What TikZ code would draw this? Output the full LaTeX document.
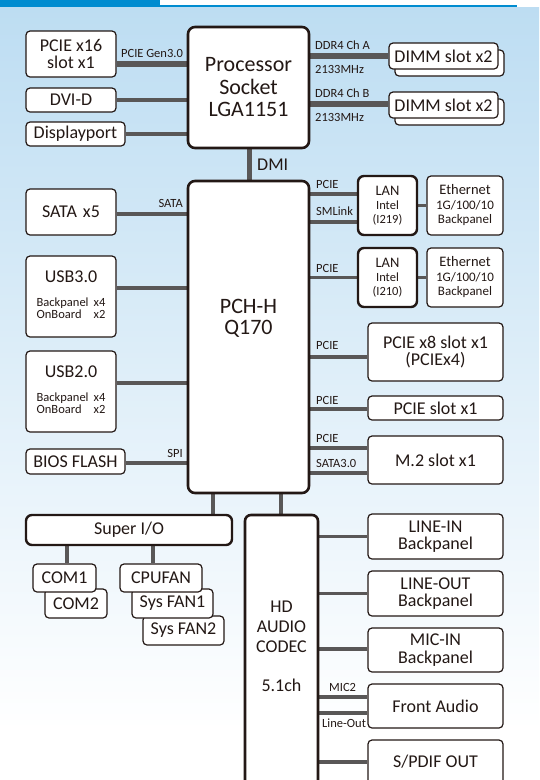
\documentclass[tikz,border=0pt]{standalone}
\usepackage{fontspec}
\setmainfont{Carlito}
\usetikzlibrary{calc}
\definecolor{ink}{RGB}{35,24,21}
\definecolor{busgray}{RGB}{89,87,87}
\definecolor{topblue}{RGB}{0,140,208}
\definecolor{bgblue}{RGB}{189,221,242}
\newcommand\fsz[2]{\fontsize{#1}{#2}\selectfont}
\pgfdeclarelayer{back}
\pgfdeclarelayer{wires}
\pgfsetlayers{back,wires,main}
\begin{document}
\begin{tikzpicture}[x=1pt,y=-1pt,
  box/.style={draw=ink, fill=white, line width=1.2pt, rounded corners=4pt, inner sep=0pt, align=center, text=ink, font=\fsz{18}{17.5}},
  heavy/.style={box, line width=2.6pt, rounded corners=6pt},
  bus/.style={draw=busgray, line width=3.6pt},
  wbus/.style={draw=busgray, line width=6pt},
  lbl/.style={inner sep=0pt, text=ink, font=\fsz{12.5}{12.5}},
  txt/.style={inner sep=0pt, text=ink, align=center}]
\useasboundingbox (0,0) rectangle (539,780);
\clip (0,0) rectangle (539,780);
\begin{pgfonlayer}{back}
  \shade[top color=bgblue, bottom color=white] (0,7) rectangle (539,730);
  \fill[topblue] (0,0) rectangle (160,5);
  \fill[topblue] (0,5) rectangle (517,7.3);
\end{pgfonlayer}

% processor side
\node[heavy, rounded corners=7pt, minimum width=121, minimum height=121, font=\fsz{22}{22.5}] (proc) at (248.5,87.5) {Processor\\Socket\\LGA1151};
\node[box, minimum width=90, minimum height=46] (pcie16) at (71,54) {PCIE x16\\slot x1};
\node[box, minimum width=90, minimum height=24] (dvid) at (71,100) {DVI-D};
\node[box, minimum width=99, minimum height=24] (dp) at (75.5,134) {Displayport};
\node[box, minimum width=109, minimum height=26] (dimmAb) at (449.5,63) {};
\node[box, minimum width=109, minimum height=26] (dimmA) at (443.5,56) {DIMM slot x2};
\node[box, minimum width=109, minimum height=26] (dimmBb) at (449.5,112) {};
\node[box, minimum width=109, minimum height=26] (dimmB) at (443.5,105) {DIMM slot x2};

% PCH
\node[heavy, rounded corners=7pt, minimum width=121, minimum height=312] (pch) at (248.5,337) {};
\node[txt, font=\fsz{22}{21}] (pchtext) at (248.5,318) {PCH-H\\Q170};
\node[box, minimum width=90, minimum height=46] (sata) at (71,212) {SATA\hspace{6pt}x5};
\node[box, minimum width=90, minimum height=81] (usb3) at (71,296.5) {USB3.0\\[6pt]{\fsz{12.5}{12}\begin{tabular}[t]{@{}l@{\hspace{5pt}}r@{}}Backpanel&x4\\OnBoard&x2\end{tabular}}};
\node[box, minimum width=90, minimum height=81] (usb2) at (71,391.5) {USB2.0\\[6pt]{\fsz{12.5}{12}\begin{tabular}[t]{@{}l@{\hspace{5pt}}r@{}}Backpanel&x4\\OnBoard&x2\end{tabular}}};
\node[box, minimum width=99, minimum height=25] (bios) at (75.5,461.5) {BIOS FLASH};

\node[heavy, line width=2.4pt, minimum width=59, minimum height=59, font=\fsz{12.5}{14}] (lan1) at (387.5,205.5) {{\fsz{14.5}{14}LAN}\\Intel\\(I219)};
\node[box, minimum width=76, minimum height=59, font=\fsz{13}{14.5}] (eth1) at (465,205.5) {{\fsz{14.5}{14.5}Ethernet}\\1G/100/10\\Backpanel};
\node[heavy, line width=2.4pt, minimum width=59, minimum height=59, font=\fsz{12.5}{14}] (lan2) at (387.5,277.5) {{\fsz{14.5}{14}LAN}\\Intel\\(I210)};
\node[box, minimum width=76, minimum height=59, font=\fsz{13}{14.5}] (eth2) at (465,277.5) {{\fsz{14.5}{14.5}Ethernet}\\1G/100/10\\Backpanel};
\node[box, minimum width=135, minimum height=58] (pcie8) at (435.5,352) {PCIE x8 slot x1\\(PCIEx4)};
\node[box, minimum width=135, minimum height=24] (pcie1) at (435.5,408) {PCIE slot x1};
\node[box, minimum width=135, minimum height=48] (m2) at (435.5,460) {M.2 slot x1};

% lower part
\node[heavy, line width=2.4pt, minimum width=206, minimum height=30] (superio) at (129,530) {Super I/O};
\node[heavy, line width=2.6pt, minimum width=73, minimum height=285] (hd) at (281.5,657.5) {};
\node[txt, font=\fsz{18}{20}] (hdtext) at (281.5,646) {HD\\AUDIO\\CODEC\\[19pt]5.1ch};
\node[box, minimum width=62, minimum height=29] (com2) at (76,603.5) {COM2};
\node[box, minimum width=63, minimum height=28] (com1) at (64.5,578) {COM1};
\node[box, minimum width=81, minimum height=29] (sysfan2) at (183.5,630.5) {Sys FAN2};
\node[box, minimum width=81, minimum height=29] (sysfan1) at (172.5,603.5) {Sys FAN1};
\node[box, minimum width=82, minimum height=28] (cpufan) at (161,578) {CPUFAN};
\node[box, minimum width=135, minimum height=45] (linein) at (435.5,536.5) {LINE-IN\\Backpanel};
\node[box, minimum width=135, minimum height=45] (lineout) at (435.5,593.5) {LINE-OUT\\Backpanel};
\node[box, minimum width=135, minimum height=44] (micin) at (435.5,650) {MIC-IN\\Backpanel};
\node[box, minimum width=135, minimum height=44] (front) at (435.5,706) {Front Audio};
\node[box, minimum width=135, minimum height=44] (spdif) at (435.5,762) {S/PDIF OUT};

% labels
\node[lbl, anchor=base] (lgen) at (152,57) {PCIE Gen3.0};
\node[lbl, anchor=base west] (lddra) at (315,49) {DDR4 Ch A};
\node[lbl, anchor=base west] (lmhza) at (315,73) {2133MHz};
\node[lbl, anchor=base west] (lddrb) at (315,97) {DDR4 Ch B};
\node[lbl, anchor=base west] (lmhzb) at (315,121) {2133MHz};
\node[txt, font=\fsz{18}{18}, anchor=base west] (ldmi) at (257,170) {DMI};
\node[lbl, anchor=base east] (lsata) at (183,207) {SATA};
\node[lbl, anchor=base east] (lspi) at (183,457) {SPI};
\node[lbl, anchor=base west] (lp1) at (316,188) {PCIE};
\node[lbl, anchor=base west] (lsml) at (316,215) {SMLink};
\node[lbl, anchor=base west] (lp2) at (316,272) {PCIE};
\node[lbl, anchor=base west] (lp3) at (316,349) {PCIE};
\node[lbl, anchor=base west] (lp4) at (316,404) {PCIE};
\node[lbl, anchor=base west] (lp5) at (316,442) {PCIE};
\node[lbl, anchor=base west] (lsata3) at (316,467) {SATA3.0};
\node[lbl, anchor=base west] (lmic2) at (329,691) {MIC2};
\node[lbl, anchor=base west] (llo) at (322,727) {Line-Out};

% connectors
\begin{pgfonlayer}{wires}
  \draw[wbus] (pcie16.east |- 0,64) -- (proc.west |- 0,64);
  \draw[bus] (dvid.east) -- (proc.west |- dvid.east);
  \draw[bus] (dp.east) -- (proc.west |- dp.east);
  \draw[wbus] (proc.east |- dimmA.west) -- (dimmA.west);
  \draw[wbus] (proc.east |- 0,104) -- (dimmB.west |- 0,104);
  \draw[draw=busgray, line width=5pt] (proc.south -| 249,0) -- (pch.north -| 249,0);
  \draw[bus] (sata.east |- 0,214) -- (pch.west |- 0,214);
  \draw[bus] (usb3.east |- 0,288) -- (pch.west |- 0,288);
  \draw[bus] (usb2.east |- 0,383) -- (pch.west |- 0,383);
  \draw[bus] (bios.east |- 0,463) -- (pch.west |- 0,463);
  \draw[bus] (pch.east |- 0,194) -- (lan1.west |- 0,194);
  \draw[bus] (pch.east |- 0,222) -- (lan1.west |- 0,222);
  \draw[bus] (lan1.east) -- (eth1.west);
  \draw[bus] (pch.east |- lan2.west) -- (lan2.west);
  \draw[bus] (lan2.east) -- (eth2.west);
  \draw[bus] (pch.east |- 0,357) -- (pcie8.west |- 0,357);
  \draw[bus] (pch.east |- 0,409) -- (pcie1.west |- 0,409);
  \draw[bus] (pch.east |- 0,448) -- (m2.west |- 0,448);
  \draw[bus] (pch.east |- 0,473) -- (m2.west |- 0,473);
  \draw[bus] (pch.south -| 213,0) -- (superio.north -| 213,0);
  \draw[bus] (pch.south -| 281,0) -- (hd.north -| 281,0);
  \draw[bus] (superio.south -| 67,0) -- (com1.north -| 67,0);
  \draw[bus] (superio.south -| 153,0) -- (cpufan.north -| 153,0);
  \draw[bus] (hd.east |- linein.west) -- (linein.west);
  \draw[bus] (hd.east |- lineout.west) -- (lineout.west);
  \draw[bus] (hd.east |- 0,649) -- (micin.west |- 0,649);
  \draw[bus] (hd.east |- 0,697) -- (front.west |- 0,697);
  \draw[bus] (hd.east |- 0,713) -- (front.west |- 0,713);
  \draw[bus] (hd.east |- spdif.west) -- (spdif.west);
\end{pgfonlayer}
\end{tikzpicture}
\end{document}
